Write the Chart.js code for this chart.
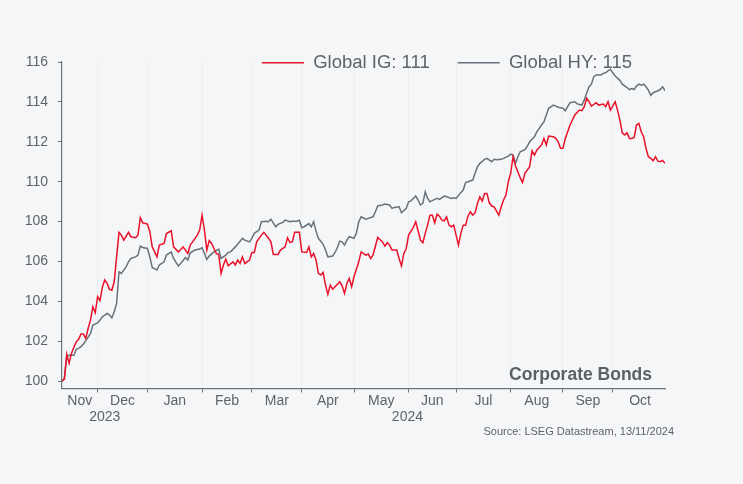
<!DOCTYPE html>
<html><head><meta charset="utf-8">
<script src="https://cdn.jsdelivr.net/npm/chart.js@4/dist/chart.umd.min.js"></script>
<style>html,body{margin:0;padding:0;background:#f5f6f8;}canvas{display:block;}</style>
</head><body>
<canvas id="c" width="743" height="484"></canvas>
<script>
// ---- data (x = business-day index from 10 Nov 2023) ----
const igDays = [0,1,2,3,4,5,6,7,8,9,10,11,12,13,14,15,16,17,18,19,20,21,22,24,25,26,28,29,31,32,33,34,36,37,38,40,41,43,44,46,47,49,50,51,53,54,55,57,58,59,60,61,62,63,65,66,67,68,69,70,72,73,74,75,76,77,79,80,81,82,84,85,87,88,89,91,92,94,95,96,97,98,100,101,103,104,105,106,107,108,109,110,111,112,113,114,115,116,117,118,119,120,121,122,123,125,126,128,129,130,131,133,135,136,137,138,139,141,142,143,144,145,146,148,149,150,151,152,153,154,155,156,157,158,159,160,161,162,163,164,165,167,168,169,170,171,172,173,174,175,176,177,178,179,180,181,182,184,185,186,187,188,189,190,191,192,193,194,195,197,198,199,200,202,203,204,205,207,208,209,210,211,212,214,215,216,218,219,220,221,222,223,225,226,228,229,230,231,232,233,234,235,236,237,238,239,240,241,242,243,244,245,246,247,248,249,250,251,252,253,254];
const igValues = [100.0,100.1,101.35,100.9,101.4,101.7,101.97,102.1,102.36,102.36,102.14,102.64,103.06,103.73,103.43,104.23,104.03,104.7,105.07,104.9,104.6,104.56,104.98,107.46,107.32,107.07,107.46,107.24,107.19,107.32,108.2,107.94,107.87,107.49,106.73,106.23,106.82,106.9,107.4,107.54,106.73,106.48,106.6,106.73,106.4,106.82,106.98,107.32,107.57,108.32,107.57,106.57,107.04,106.9,106.4,106.35,105.4,105.82,106.12,105.78,105.98,105.82,106.07,105.9,106.23,105.9,106.07,106.45,106.45,106.98,107.32,107.46,107.16,106.98,106.35,106.35,106.57,106.73,107.19,106.96,106.98,107.46,107.46,106.48,106.45,106.73,106.23,106.4,106.07,105.4,105.32,105.45,104.81,104.35,104.81,104.61,104.73,104.85,104.98,104.78,104.4,104.9,105.15,104.73,105.23,105.98,106.48,106.32,106.37,106.15,106.32,107.2,106.98,106.77,106.94,106.82,106.57,106.57,106.15,105.77,106.4,106.65,107.32,107.71,107.99,107.54,107.07,106.94,107.41,107.82,108.32,108.32,107.94,108.37,108.27,108.07,108.04,108.24,107.82,107.74,107.82,106.82,107.41,107.82,107.82,108.27,108.49,108.32,108.44,108.91,109.24,109.03,109.41,109.41,108.94,108.78,108.74,108.32,108.74,109.08,109.33,110.0,110.42,111.25,110.8,110.5,110.2,109.95,110.42,110.75,111.55,111.33,111.58,111.84,112.17,111.84,112.29,112.25,112.17,112.0,111.67,111.67,112.17,112.84,113.09,113.34,113.59,113.56,113.76,114.18,114.01,113.79,113.96,113.84,113.89,113.76,114.01,113.59,113.79,114.01,113.59,113.09,112.45,112.34,112.45,112.17,112.17,112.22,112.84,112.92,112.5,112.25,111.67,111.25,111.17,111.05,111.25,111.03,111.0,111.06,110.92];
const hyDays = [0,1,2,3,5,6,8,9,10,12,13,15,16,17,19,20,21,22,23,24,25,27,28,29,31,32,33,34,36,37,38,40,41,43,44,46,47,49,50,52,53,54,56,58,59,61,62,64,66,67,69,70,71,73,74,76,77,79,80,81,83,84,86,87,88,90,91,93,94,96,97,99,100,101,102,104,105,106,107,108,110,111,112,114,115,116,117,118,119,120,121,123,124,125,126,128,129,131,132,133,135,136,138,139,140,142,143,145,146,147,149,150,151,152,153,154,155,157,158,159,161,162,164,165,166,168,169,170,171,173,174,175,176,178,179,181,182,183,185,186,188,189,190,191,192,193,195,196,197,199,200,202,203,204,205,207,208,209,211,212,213,214,216,217,219,220,221,222,223,224,225,227,228,229,230,231,232,233,235,236,238,239,240,241,242,243,244,245,246,247,248,249,251,252,253,254];
const hyValues = [100.0,100.15,101.22,101.3,101.3,101.59,101.72,101.86,102.02,102.39,102.81,102.92,103.06,103.22,103.39,103.31,103.17,103.48,103.9,105.48,105.4,105.73,105.98,106.15,106.23,106.32,106.77,106.7,106.65,106.23,105.7,105.57,105.82,105.98,106.32,106.48,106.15,105.77,105.9,106.2,106.07,106.43,106.57,106.62,106.69,106.1,106.27,106.48,106.62,106.15,106.32,106.45,106.48,106.73,106.86,107.16,107.07,106.98,107.16,107.41,107.57,107.99,108.02,107.99,108.12,107.74,107.86,107.96,108.07,107.99,108.02,108.02,108.07,107.69,107.74,107.9,107.74,107.99,107.52,107.16,106.86,106.57,106.23,106.27,106.45,106.69,107.02,106.98,106.82,107.07,107.24,107.16,107.41,107.99,108.24,108.12,108.16,108.24,108.49,108.78,108.83,108.88,108.83,108.66,108.71,108.74,108.44,108.66,108.99,109.04,109.28,109.08,108.83,108.91,109.49,109.16,108.99,109.11,109.16,109.11,109.28,109.24,109.16,109.19,109.16,109.45,109.58,109.95,110.0,110.08,110.42,110.75,110.92,111.12,111.17,111.0,111.12,111.1,111.12,111.17,111.28,111.38,111.33,110.92,111.25,111.5,111.61,111.78,112.0,112.25,112.5,112.84,113.0,113.34,113.68,113.84,113.79,113.73,113.68,113.56,113.76,113.96,114.01,113.9,113.84,114.1,114.43,114.76,114.89,115.26,115.35,115.35,115.43,115.46,115.56,115.63,115.46,115.3,115.08,114.89,114.72,114.62,114.67,114.62,114.79,114.89,114.84,114.89,114.76,114.59,114.33,114.46,114.56,114.62,114.76,114.56];
const seriesNames = ['Global IG: 111', 'Global HY: 115'];
const monthStartDays = [15,36,59,80,101,123,146,166,189,211,232];
const monthLabels = ['Nov','Dec','Jan','Feb','Mar','Apr','May','Jun','Jul','Aug','Sep','Oct'];
const monthMidDays = [7.5,25.5,47.5,69.5,90.5,112,134.5,156,177.5,200,221.5,243.5];
const yearLabels = ['2023','2024'];
const yearMidDays = [18,145.5];
const yTickValues = [100,102,104,106,108,110,112,114,116];
const lastDay = 254;
const chartLabel = 'Corporate Bonds';
const sourceText = 'Source: LSEG Datastream, 13/11/2024';

const FONT = '"Liberation Sans", Arial, sans-serif';
const TXT = '#5f6368';
const AX = '#6e7378';
Chart.defaults.font.family = FONT;

const toPts = (d, v) => d.map((x, i) => ({x, y: v[i]}));

const legendPlace = {
  id: 'legendPlace',
  afterInit(chart) {
    const lg = chart.legend;
    const orig = lg.fit;
    lg.fit = function () { orig.call(this); this.height = 0; };
  },
  afterLayout(chart) {
    const lg = chart.legend;
    lg.top = chart.chartArea.top - 36.5;
    lg.bottom = lg.top + 70;
    lg.left = chart.chartArea.left;
    lg.right = chart.chartArea.right - 5;
  }
};
const cornerLabel = {
  id: 'cornerLabel',
  afterDatasetsDraw(chart) {
    const {ctx, chartArea} = chart;
    ctx.save();
    ctx.font = 'bold 17.5px ' + FONT;
    ctx.fillStyle = '#5b6067';
    ctx.textAlign = 'right';
    ctx.textBaseline = 'middle';
    ctx.fillText(chartLabel, chartArea.right - 13, chartArea.bottom - 13.5);
    ctx.restore();
  }
};

new Chart(document.getElementById('c'), {
  type: 'line',
  data: {
    datasets: [
      {label: seriesNames[0], data: toPts(igDays, igValues), borderColor: '#e8122a', borderWidth: 1.5, pointRadius: 0, tension: 0, xAxisID: 'x', yAxisID: 'y'},
      {label: seriesNames[1], data: toPts(hyDays, hyValues), borderColor: '#68727a', borderWidth: 1.5, pointRadius: 0, tension: 0, xAxisID: 'x', yAxisID: 'y'}
    ]
  },
  options: {
    responsive: false,
    animation: false,
    events: [],
    layout: {padding: {left: 22, right: 69, top: 62, bottom: 45.8}},
    plugins: {
      legend: {
        position: 'top', align: 'end', fullSize: false,
        labels: {usePointStyle: true, pointStyle: 'line', pointStyleWidth: 42, padding: 28, color: TXT, font: {size: 18.5}}
      },
      title: {
        display: true, text: sourceText, position: 'bottom', align: 'end', color: TXT,
        font: {size: 11, weight: 'normal'}, padding: {top: 0.5, bottom: 0}
      },
      tooltip: {enabled: false}
    },
    scales: {
      x: {
        type: 'linear', min: 0, max: lastDay, position: 'bottom', weight: 0,
        afterBuildTicks: s => { s.ticks = monthStartDays.map(v => ({value: v})); },
        grid: {display: true, drawOnChartArea: true, color: 'rgba(0,0,0,0.035)', tickColor: AX, tickLength: 4, drawTicks: true},
        border: {display: true, color: AX, width: 1.2},
        ticks: {display: false},
        afterFit: s => { s.height = 4; }
      },
      xm: {
        type: 'linear', min: 0, max: lastDay, position: 'bottom', weight: 1,
        afterBuildTicks: s => { s.ticks = monthMidDays.map(v => ({value: v})); },
        grid: {display: false, drawTicks: false}, border: {display: false},
        ticks: {autoSkip: false, maxRotation: 0, padding: 0, color: TXT, font: {size: 14}, callback: (v, i) => monthLabels[i]},
        afterFit: s => { s.height = 16; }
      },
      xy: {
        type: 'linear', min: 0, max: lastDay, position: 'bottom', weight: 2,
        afterBuildTicks: s => { s.ticks = yearMidDays.map(v => ({value: v})); },
        grid: {display: false, drawTicks: false}, border: {display: false},
        ticks: {autoSkip: false, maxRotation: 0, padding: 0, color: TXT, font: {size: 14}, callback: (v, i) => yearLabels[i]},
        afterFit: s => { s.height = 16; }
      },
      y: {
        type: 'linear', position: 'left', min: 99.63, max: 116,
        afterBuildTicks: s => { s.ticks = yTickValues.map(v => ({value: v})); },
        grid: {drawOnChartArea: false, drawTicks: true, tickLength: 4, tickColor: AX},
        border: {display: true, color: AX, width: 1.2},
        ticks: {padding: 10, color: TXT, font: {size: 14}},
        afterFit: s => { s.width = 40; }
      },
      yr: {
        type: 'linear', position: 'right',
        grid: {display: false}, border: {display: false}, ticks: {display: false},
        afterFit: s => { s.width = 9; }
      }
    }
  },
  plugins: [legendPlace, cornerLabel]
});
</script>
</body></html>
